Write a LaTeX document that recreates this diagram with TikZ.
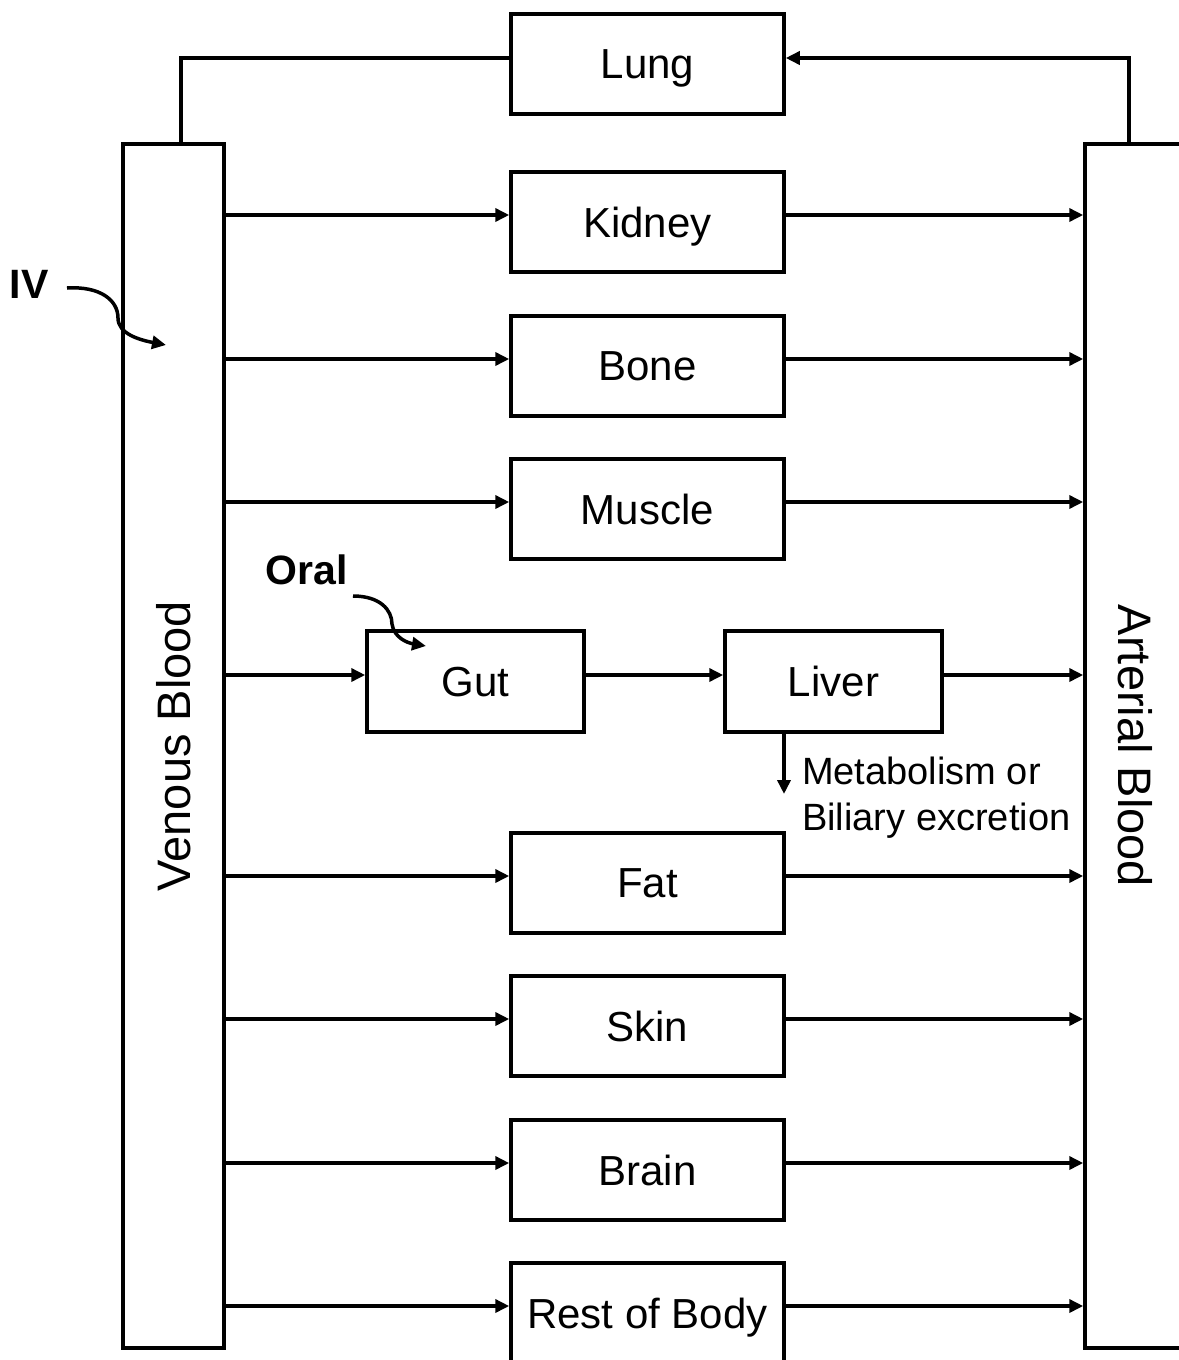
\documentclass[tikz,border=0pt]{standalone}
\usepackage{fontspec}
\setmainfont{Liberation Sans}
\usetikzlibrary{arrows.meta}
\begin{document}
\begin{tikzpicture}[x=1pt,y=-1pt,
  ln/.style={line width=3.5pt},
  arr/.style={ln,-{Triangle[length=14pt,width=13pt]}},
  organ/.style={draw,line width=3.5pt,minimum width=273pt,minimum height=100pt,inner sep=0pt,text depth=0pt,font=\fontsize{42}{48}\selectfont},
  small/.style={draw,line width=3.5pt,minimum width=217pt,minimum height=101pt,inner sep=0pt,text depth=0pt,font=\fontsize{42}{48}\selectfont},
  column/.style={draw,line width=3.5pt,minimum width=101pt,minimum height=1204pt,inner sep=0pt},
  collbl/.style={font=\fontsize{47}{54}\selectfont},
  route/.style={font=\bfseries\fontsize{41}{48}\selectfont}]
\useasboundingbox (0,0) rectangle (1178,1360);
% blood columns
\node[column] (ven) at (173.5,746) {};
\node[collbl,rotate=90] (venlbl) at (ven.center) {Venous Blood};
\node[column] (art) at (1135.5,746) {};
\node[collbl,rotate=-90] (artlbl) at (art.center) {Arterial Blood};
% organs
\node[organ] (lung) at (647.5,64) {Lung};
\node[organ] (kid) at (647.5,222) {Kidney};
\node[organ] (bone) at (647.5,366) {Bone};
\node[organ] (mus) at (647.5,509) {Muscle};
\node[small] (gut) at (475.5,681.5) {Gut};
\node[small] (liv) at (833.5,681.5) {Liver};
\node[organ] (fat) at (647.5,883) {Fat};
\node[organ] (skin) at (647.5,1026) {Skin};
\node[organ] (brain) at (647.5,1170) {Brain};
\node[organ] (rest) at (647.5,1313) {Rest of Body};
% lung loop
\coordinate (vtop) at (181,144);
\coordinate (atop) at (1129,144);
\draw[ln] ([yshift=6pt]lung.west) -| (vtop);
\draw[arr] (atop) |- ([yshift=6pt]lung.east);
% organ flows
\foreach \o in {kid,bone,mus,fat,skin,brain,rest}{
  \coordinate (\o w) at ([yshift=7pt]\o.west);
  \coordinate (\o e) at ([yshift=7pt]\o.east);
  \draw[arr] (ven.east |- \o w) -- (\o w);
  \draw[arr] (\o e) -- (art.west |- \o e);
}
\coordinate (gutw) at ([yshift=6.5pt]gut.west);
\coordinate (gute) at ([yshift=6.5pt]gut.east);
\coordinate (livw) at ([yshift=6.5pt]liv.west);
\coordinate (live) at ([yshift=6.5pt]liv.east);
\draw[arr] (ven.east |- gutw) -- (gutw);
\draw[arr] (gute) -- (livw);
\draw[arr] (live) -- (art.west |- live);
% metabolism
\coordinate (metend) at (784,794);
\draw[arr] (liv.south -| metend) -- (metend);
\node[anchor=north west,align=left,inner sep=0pt,font=\fontsize{38}{46}\selectfont] (met) at (802,757) {Metabolism or\\Biliary excretion};
% routes
\node[route] (iv) at (29,284) {IV};
\coordinate (ivend) at (166,345);
\draw[arr] (67,288) .. controls (100,286) and (118,300) .. (118,318) .. controls (118,334) and (140,340) .. (ivend);
\node[route] (oral) at (307,570) {Oral};
\coordinate (oralend) at (426,646);
\draw[arr] (353,596) .. controls (380,596) and (392,610) .. (392,624) .. controls (394,638) and (408,643) .. (oralend);
\end{tikzpicture}
\end{document}
